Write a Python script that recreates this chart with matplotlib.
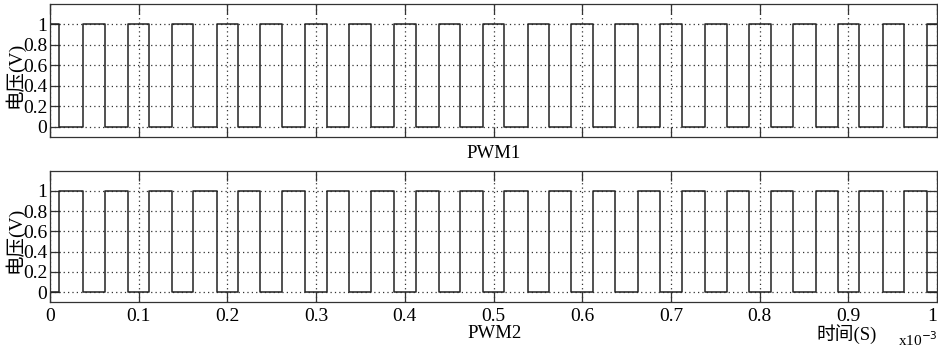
import numpy as np
import matplotlib.pyplot as plt

# switching instants, in units of 1e-3 s
edges = [0.0105, 0.0369, 0.0617, 0.0876, 0.1116, 0.1372, 0.1616, 0.1879,
         0.2120, 0.2371, 0.2619, 0.2880, 0.3126, 0.3374, 0.3619, 0.3875,
         0.4126, 0.4382, 0.4622, 0.4878, 0.5122, 0.5386, 0.5622, 0.5877,
         0.6125, 0.6373, 0.6632, 0.6877, 0.7128, 0.7384, 0.7632, 0.7884,
         0.8125, 0.8380, 0.8632, 0.8880, 0.9124, 0.9388, 0.9631, 0.9887]
pwm1_start = 1   # PWM1 starts high
pwm2_start = 0   # PWM2 is the complement
t_end = 1.0

xticks = [0, 0.1, 0.2, 0.3, 0.4, 0.5, 0.6, 0.7, 0.8, 0.9, 1]
xticklabels = ['0', '0.1', '0.2', '0.3', '0.4', '0.5', '0.6', '0.7', '0.8', '0.9', '1']
yticks = [0, 0.2, 0.4, 0.6, 0.8, 1]
yticklabels = ['0', '0.2', '0.4', '0.6', '0.8', '1']


def wave(start):
    t = [0.0] + edges + [t_end]
    v = [start]
    for _ in edges:
        v.append(1 - v[-1])
    v.append(v[-1])
    return np.array(t), np.array(v)


plt.rcParams['font.family'] = ['Liberation Serif', 'Noto Sans CJK SC']
plt.rcParams['axes.unicode_minus'] = False

fig = plt.figure(figsize=(9.38, 3.51), dpi=100)
W, H = 938.0, 351.0
ax1 = fig.add_axes([50 / W, 1 - 137 / H, 887 / W, 133 / H])
ax2 = fig.add_axes([50 / W, 1 - 302.3 / H, 887 / W, 131.6 / H])

for ax, start in [(ax1, pwm1_start), (ax2, pwm2_start)]:
    t, v = wave(start)
    ax.step(t, v, where='post', color='#222222', lw=1.1)
    ax.set_xlim(0, 1)
    ax.set_ylim(-0.1, 1.2)
    ax.set_xticks(xticks)
    ax.set_yticks(yticks)
    ax.set_yticklabels(yticklabels)
    ax.grid(True, color='#333333', linestyle=(0, (1, 2.5)), lw=0.9)
    ax.tick_params(direction='in', length=7, width=0.9, color='#333333',
                   top=True, right=True, labelsize=14, pad=2)
    for s in ax.spines.values():
        s.set_color('#333333')
        s.set_linewidth(0.9)

ax1.set_xticklabels([])
ax2.set_xticklabels(xticklabels)
ax2.tick_params(axis='x', pad=4)
# last label sits against the right edge of the figure
ax2.get_xticklabels()[-1].set_horizontalalignment('right')

fig.text(493.5 / W, 1 - 153 / H, 'PWM1', ha='center', va='center', fontsize=13.5)
fig.text(495 / W, 1 - 333 / H, 'PWM2', ha='center', va='center', fontsize=13.5)
fig.text(847 / W, 1 - 334 / H, '时间(S)', ha='center', va='center', fontsize=13.5)
fig.text(918 / W, 1 - 349 / H, 'x10$^{-3}$', ha='center', va='bottom', fontsize=11)
fig.text(14.5 / W, 1 - 75 / H, '电压(V)', ha='center', va='center', rotation=90, fontsize=14)
fig.text(14.5 / W, 1 - 240 / H, '电压(V)', ha='center', va='center', rotation=90, fontsize=14)

fig.savefig('out.png', dpi=100)
